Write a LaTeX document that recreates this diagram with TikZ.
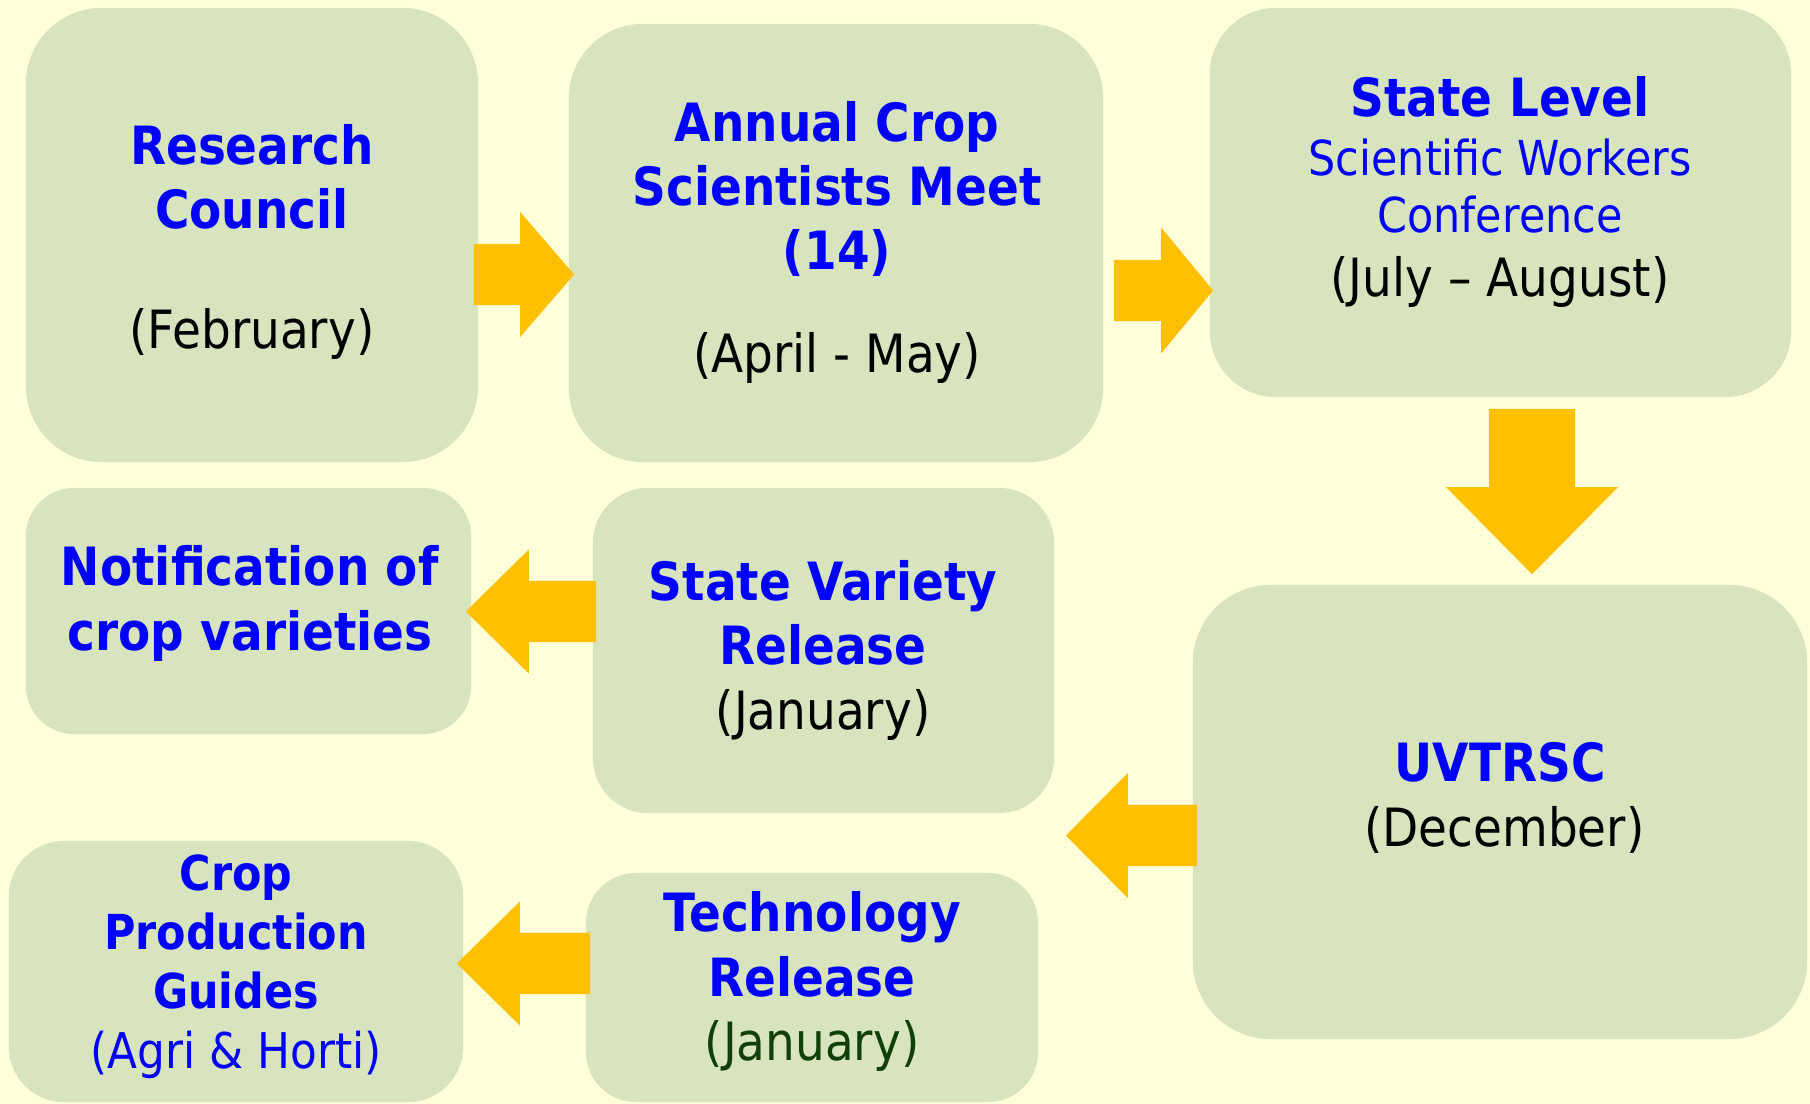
\documentclass[tikz,border=0pt]{standalone}
\usepackage{fontspec}
\setmainfont{DejaVu Sans}[FakeStretch=0.89]
\usepackage{tikz}
\usetikzlibrary{calc}

\definecolor{bgyellow}{RGB}{255,255,217}
\definecolor{boxgreen}{RGB}{215,228,189}
\definecolor{arrowgold}{RGB}{255,192,0}
\definecolor{titleblue}{RGB}{0,0,255}
\definecolor{techgreen}{RGB}{16,64,8}

\tikzset{
  stage/.style={fill=boxgreen, draw=none, inner sep=0pt},
  stagetext/.style={inner sep=0pt, align=center, anchor=base, text=titleblue,
    font=\fontsize{15}{18.2}\selectfont},
  arrowfill/.style={fill=arrowgold}
}

% block arrow: start, tip, half body width, half head width, head length
\newcommand{\blockarrow}[5]{%
  \coordinate (ba-s) at #1;
  \coordinate (ba-t) at #2;
  \coordinate (ba-b) at ($(ba-t)!#5!(ba-s)$);
  \fill[arrowfill] ($(ba-s)!#3!90:(ba-t)$) -- ($(ba-b)!#3!90:(ba-t)$)
    -- ($(ba-b)!#4!90:(ba-t)$) -- (ba-t) -- ($(ba-b)!#4!-90:(ba-t)$)
    -- ($(ba-b)!#3!-90:(ba-t)$) -- ($(ba-s)!#3!-90:(ba-t)$) -- cycle;}

\begin{document}
\begin{tikzpicture}[x=0.01cm, y=-0.01cm]
\fill[bgyellow] (0,0) rectangle (1810,1104);
\useasboundingbox (0,0) rectangle (1810,1104);

% stages
\node[stage, minimum width=4.52cm, minimum height=4.54cm, rounded corners=0.76cm] (rc) at (252,235) {};
\node[stage, minimum width=5.34cm, minimum height=4.38cm, rounded corners=0.74cm] (acm) at (836,243) {};
\node[stage, minimum width=5.81cm, minimum height=3.89cm, rounded corners=0.66cm] (slc) at (1500.5,202.5) {};
\node[stage, minimum width=6.14cm, minimum height=4.54cm, rounded corners=0.78cm] (uv) at (1500,812) {};
\node[stage, minimum width=4.61cm, minimum height=3.25cm, rounded corners=0.55cm] (sv) at (823.5,650.5) {};
\node[stage, minimum width=4.45cm, minimum height=2.46cm, rounded corners=0.48cm] (nc) at (248.5,611) {};
\node[stage, minimum width=4.52cm, minimum height=2.29cm, rounded corners=0.5cm] (tr) at (812,987.5) {};
\node[stage, minimum width=4.54cm, minimum height=2.61cm, rounded corners=0.55cm] (cpg) at (236,971.5) {};

% texts (placed at the baseline of their last line)
\node[stagetext] (rc-txt) at (252,349)
  {\textbf{Research}\\\textbf{Council}\\[0.56cm]\textcolor{black}{(February)}};
\node[stagetext] (acm-txt) at (837,373)
  {\textbf{Annual Crop}\\\textbf{Scientists Meet}\\\textbf{(14)}\\[0.39cm]\textcolor{black}{(April - May)}};
\node[stagetext] (slc-txt) at (1500,297)
  {\textbf{State Level}\\[-0.05cm]{\fontsize{13.7}{16}\selectfont Scientific Workers}\\[-0.07cm]{\fontsize{13.7}{16}\selectfont Conference}\\\textcolor{black}{(July – August)}};
\node[stagetext] (uv-txt) at (1500,846)
  {\textbf{UVTRSC}\\\textcolor{black}{\,(December)}};
\node[stagetext] (sv-txt) at (823,729)
  {\textbf{State Variety}\\\textbf{Release}\\\textcolor{black}{(January)}};
\node[stagetext] (nc-txt) at (250,650)
  {\textbf{Notification of}\\\textbf{crop varieties}};
\node[stagetext] (tr-txt) at (812,1060)
  {\textbf{Technology}\\\textbf{Release}\\\textcolor{techgreen}{(January)}};
\node[stagetext, font=\fontsize{13.7}{16.8}\selectfont] (cpg-txt) at (236,1068)
  {\textbf{Crop}\\\textbf{Production}\\\textbf{Guides}\\{\fontsize{14}{16.8}\selectfont (Agri \& Horti)}};

% arrows
\blockarrow{($(rc.east)+(-5,39.5)$)}{($(acm.west)+(6,31.5)$)}{0.305cm}{0.625cm}{0.54cm}
\blockarrow{($(acm.east)+(10,47.5)$)}{($(slc.west)+(4,88)$)}{0.305cm}{0.63cm}{0.52cm}
\blockarrow{($(slc.south)+(31.5,11)$)}{($(uv.north)+(32,-10)$)}{0.43cm}{0.86cm}{0.87cm}
\blockarrow{($(uv.west)+(5,23.5)$)}{($(sv.east)+(11,185)$)}{0.305cm}{0.625cm}{0.62cm}
\blockarrow{($(sv.west)+(4,-39)$)}{($(nc.east)+(-6,0.5)$)}{0.305cm}{0.62cm}{0.63cm}
\blockarrow{($(tr.west)+(5,-24)$)}{($(cpg.east)+(-7,-8)$)}{0.305cm}{0.62cm}{0.63cm}
\end{tikzpicture}
\end{document}
